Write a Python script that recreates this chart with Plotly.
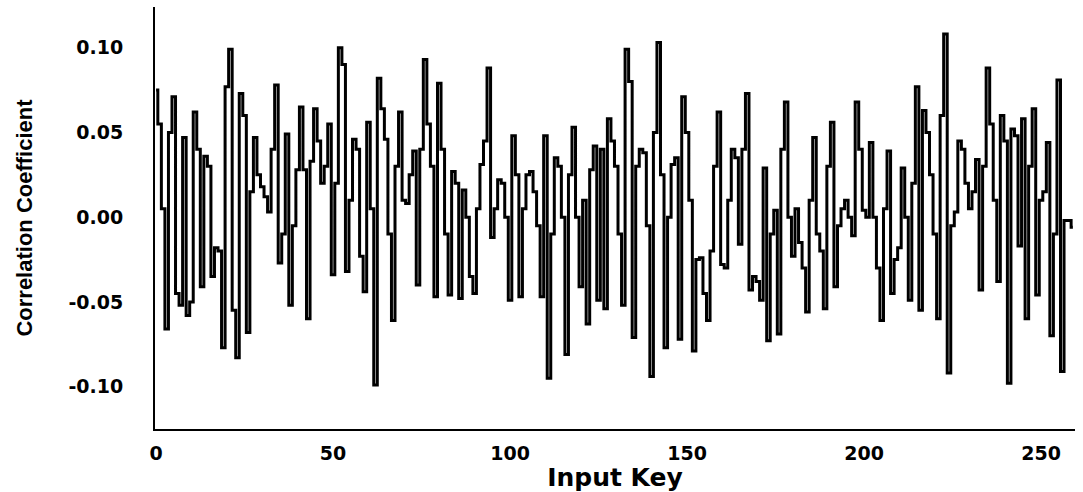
import plotly.graph_objects as go

# Correlation coefficient for each input key (0..259)
coeff_0_25 = [0.075, 0.055, 0.005, -0.066, 0.050, 0.071, -0.045, -0.052, 0.047, -0.058,
              -0.050, 0.062, 0.040, -0.041, 0.036, 0.030, -0.035, -0.018, -0.020, -0.077,
              0.077, 0.099, -0.055, -0.083, 0.073, 0.060]
coeff_26_51 = [-0.068, 0.015, 0.047, 0.025, 0.018, 0.012, 0.003, 0.040, 0.078, -0.027,
               -0.010, 0.049, -0.052, -0.005, 0.028, 0.065, 0.028, -0.060, 0.033, 0.064,
               0.045, 0.020, 0.030, 0.055, -0.034, 0.020]
coeff_52_77 = [0.100, 0.090, -0.032, 0.010, 0.046, 0.040, -0.023, -0.044, 0.056, 0.005,
               -0.099, 0.082, 0.064, 0.046, -0.010, -0.061, 0.030, 0.062, 0.010, 0.008,
               0.025, 0.039, -0.040, 0.040, 0.093, 0.055]
coeff_78_103 = [0.030, -0.047, 0.079, 0.040, -0.010, -0.046, 0.027, 0.020, -0.048, 0.016,
                0.000, -0.035, -0.045, 0.005, 0.031, 0.045, 0.088, -0.012, 0.005, 0.022,
                0.020, 0.000, -0.049, 0.048, 0.025, -0.047]
coeff_104_129 = [0.005, 0.025, 0.027, 0.015, -0.005, -0.047, 0.048, -0.095, -0.010, 0.035,
                 0.030, 0.000, -0.081, 0.025, 0.053, 0.000, -0.041, 0.010, -0.063, 0.028,
                 0.042, -0.049, 0.040, -0.054, 0.058, 0.045]
coeff_130_155 = [0.030, -0.010, -0.052, 0.099, 0.080, -0.071, 0.030, 0.040, 0.038, -0.005,
                 -0.094, 0.050, 0.103, 0.025, -0.077, 0.000, 0.031, 0.035, -0.072, 0.071,
                 0.050, 0.010, -0.079, -0.025, -0.024, -0.045]
coeff_156_181 = [-0.061, -0.020, 0.030, 0.062, -0.028, -0.030, 0.010, 0.040, 0.035, -0.016,
                 0.040, 0.073, -0.043, -0.035, -0.038, -0.049, 0.029, -0.073, -0.010, 0.004,
                 -0.069, 0.040, 0.068, 0.000, -0.023, 0.005]
coeff_182_207 = [-0.015, -0.030, -0.056, 0.010, 0.047, -0.010, -0.020, -0.054, 0.030, 0.056,
                 -0.041, -0.005, 0.005, 0.010, 0.000, -0.011, 0.068, 0.040, 0.004, 0.000,
                 0.044, 0.000, -0.030, -0.061, 0.005, 0.039]
coeff_208_233 = [-0.045, -0.025, -0.018, 0.029, 0.000, -0.049, 0.020, 0.077, -0.055, 0.063,
                 0.050, 0.025, -0.010, -0.060, 0.060, 0.108, -0.092, -0.005, 0.003, 0.045,
                 0.040, 0.020, 0.005, 0.015, 0.034, -0.043]
coeff_234_259 = [0.030, 0.088, 0.055, 0.010, -0.038, 0.060, 0.045, -0.098, 0.052, 0.048,
                 -0.017, 0.058, -0.060, 0.030, 0.064, -0.046, 0.010, 0.015, 0.044, -0.070,
                 -0.010, 0.081, -0.091, -0.002, -0.002, -0.006]

coefficients = (coeff_0_25 + coeff_26_51 + coeff_52_77 + coeff_78_103 + coeff_104_129
                + coeff_130_155 + coeff_156_181 + coeff_182_207 + coeff_208_233
                + coeff_234_259)
input_keys = list(range(len(coefficients)))

x_ticks = [0, 50, 100, 150, 200, 250]
y_ticks = [-0.10, -0.05, 0.00, 0.05, 0.10]
y_tick_text = ["-0.10", "-0.05", "0.00", "0.05", "0.10"]

fig = go.Figure()
fig.add_trace(go.Scatter(
    x=input_keys,
    y=coefficients,
    mode="lines",
    line=dict(color="black", width=3, shape="hvh"),
    showlegend=False,
))

tick_font = dict(family="DejaVu Sans", size=19, color="black", weight="bold")

fig.update_layout(
    width=1083,
    height=492,
    margin=dict(l=155, r=8, t=7, b=57),
    paper_bgcolor="white",
    plot_bgcolor="white",
    xaxis=dict(
        range=[-0.3, 259.6],
        tickvals=x_ticks,
        ticks="",
        showgrid=False,
        zeroline=False,
        showline=True,
        linecolor="black",
        linewidth=2,
        tickfont=tick_font,
        ticklabelstandoff=6,
        title=dict(text="Input Key",
                   font=dict(family="DejaVu Sans", size=25, color="black", weight="bold"),
                   standoff=4),
    ),
    yaxis=dict(
        range=[-0.125, 0.124],
        tickvals=y_ticks,
        ticktext=y_tick_text,
        ticks="",
        showgrid=False,
        zeroline=False,
        showline=True,
        linecolor="black",
        linewidth=2,
        tickfont=tick_font,
        ticklabelstandoff=26,
        title=dict(text="Correlation Coefficient",
                   font=dict(family="Liberation Sans Narrow, Liberation Sans", size=22,
                             color="black", weight="bold"),
                   standoff=30),
    ),
)

fig.write_html("out.html")
